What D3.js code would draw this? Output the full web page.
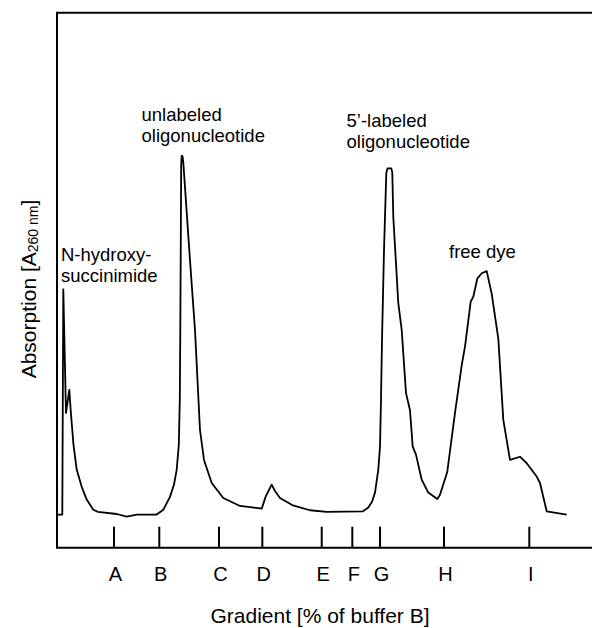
<!DOCTYPE html>
<html>
<head>
<meta charset="utf-8">
<script src="https://cdn.jsdelivr.net/npm/d3@7"></script>
<style>
  html, body { margin: 0; padding: 0; background: #fff; }
  svg { display: block; font-family: "Liberation Sans", Arial, sans-serif; }
  .frame { stroke: #000; stroke-width: 2; fill: none; }
  .trace { stroke: #000; stroke-width: 1.8; fill: none; stroke-linejoin: round; }
  .tick { stroke: #000; stroke-width: 2; }
</style>
</head>
<body>
<div id="chart"></div>
<script>
// HPLC trace: retention time (min) vs. absorption (arbitrary units)

const traceTime = [
  0.05, 0.495, 0.589, 0.841, 1.150, 1.280, 1.542, 1.841, 2.308, 2.776,
  3.393, 3.832, 5.579, 6.514, 7.449, 9.318, 9.935, 10.561, 10.935, 11.187,
  11.383, 11.477, 11.523, 11.570, 11.607, 11.654, 11.738, 11.804, 12.430, 12.897,
  13.131, 13.364, 13.738, 14.458, 15.542, 17.103, 19.131, 19.533, 20.065, 20.374,
  20.841, 22.056, 23.645, 25.206, 28.598, 29.093, 29.439, 29.720, 30.028, 30.187,
  30.280, 30.374, 30.561, 30.776, 30.888, 31.243, 31.336, 31.430, 31.897, 32.215,
  32.617, 32.991, 33.243, 33.551, 34.084, 34.701, 35.542, 35.794, 36.477, 37.196,
  37.822, 38.131, 38.664, 38.907, 39.280, 39.692, 40.159, 40.626, 41.243, 41.710,
  42.336, 43.271, 43.897, 44.832, 45.140, 45.766, 47.636
];
const traceAbs = [
  0.062, 0.062, 0.483, 0.252, 0.295, 0.257, 0.192, 0.146, 0.114, 0.090,
  0.071, 0.067, 0.063, 0.058, 0.062, 0.062, 0.071, 0.095, 0.118, 0.146,
  0.192, 0.276, 0.407, 0.575, 0.715, 0.733, 0.731, 0.720, 0.537, 0.407,
  0.313, 0.220, 0.164, 0.121, 0.093, 0.078, 0.073, 0.097, 0.118, 0.106,
  0.093, 0.079, 0.070, 0.067, 0.068, 0.075, 0.086, 0.103, 0.146, 0.189,
  0.276, 0.388, 0.556, 0.701, 0.709, 0.709, 0.701, 0.618, 0.457, 0.407,
  0.289, 0.257, 0.189, 0.174, 0.127, 0.103, 0.091, 0.099, 0.142, 0.252,
  0.341, 0.376, 0.460, 0.469, 0.503, 0.513, 0.517, 0.475, 0.391, 0.239,
  0.164, 0.170, 0.158, 0.133, 0.121, 0.068, 0.062
];

// gradient step marks on the time axis
const gradientLabels = ['A', 'B', 'C', 'D', 'E', 'F', 'G', 'H', 'I'];
const gradientTimes = [5.33, 9.56, 15.14, 19.19, 24.74, 27.60, 30.19, 36.17, 44.14];

// peak annotations
const peakNames = [
  ['N-hydroxy-', 'succinimide'],
  ['unlabeled', 'oligonucleotide'],
  ['5\u2019-labeled', 'oligonucleotide'],
  ['free dye']
];

const width = 592, height = 628;
const margin = { top: 12.7, right: 0, bottom: 80.3, left: 57 };

const svg = d3.select('#chart').append('svg')
  .attr('width', width)
  .attr('height', height);

const x = d3.scaleLinear()
  .domain([0, 50])
  .range([margin.left, width - margin.right]);

const y = d3.scaleLinear()
  .domain([0, 1])
  .range([height - margin.bottom, margin.top]);

const x0 = margin.left, y0 = height - margin.bottom;

// frame: left, top and bottom lines (no right side)
svg.append('path')
  .attr('class', 'frame')
  .attr('d', `M${width},${margin.top}H${x0}V${y0}H${width}`);

// gradient ticks (pointing up into the plot)
const tickLen = 21;
svg.append('g')
  .selectAll('line')
  .data(gradientTimes)
  .join('line')
  .attr('class', 'tick')
  .attr('x1', d => x(d))
  .attr('x2', d => x(d))
  .attr('y1', y0)
  .attr('y2', y0 - tickLen);

svg.append('g')
  .selectAll('text')
  .data(gradientLabels)
  .join('text')
  .attr('x', (d, i) => x(gradientTimes[i]) + 1.5)
  .attr('y', 580.7)
  .attr('text-anchor', 'middle')
  .attr('font-size', 20)
  .text(d => d);

// the trace
const points = traceTime.map((t, i) => [t, traceAbs[i]]);
const line = d3.line()
  .x(d => x(d[0]))
  .y(d => y(d[1]))
  .curve(d3.curveLinear);

svg.append('path')
  .attr('class', 'trace')
  .attr('d', line(points));

// axis titles
svg.append('text')
  .attr('x', 320)
  .attr('y', 623)
  .attr('text-anchor', 'middle')
  .attr('font-size', 21)
  .text('Gradient [% of buffer B]');

const yTitle = svg.append('text')
  .attr('transform', 'translate(35.5,289) rotate(-90)')
  .attr('text-anchor', 'middle')
  .attr('font-size', 21);
yTitle.append('tspan').text('Absorption [A');
yTitle.append('tspan').attr('font-size', 14).attr('dy', 2).text('260 nm');
yTitle.append('tspan').attr('dy', -2).text(']');

// peak labels (two-line labels kept just far enough apart not to collide)
const labelPos = [[61, 261], [141.5, 121], [346.5, 127], [449, 258.3]];
const lineGap = 20.8;
peakNames.forEach((lines, i) => {
  const t = svg.append('text')
    .attr('font-size', 18.5)
    .attr('x', labelPos[i][0])
    .attr('y', labelPos[i][1]);
  lines.forEach((s, j) => {
    t.append('tspan')
      .attr('x', labelPos[i][0])
      .attr('dy', j === 0 ? 0 : lineGap)
      .text(s);
  });
});
</script>
</body>
</html>
